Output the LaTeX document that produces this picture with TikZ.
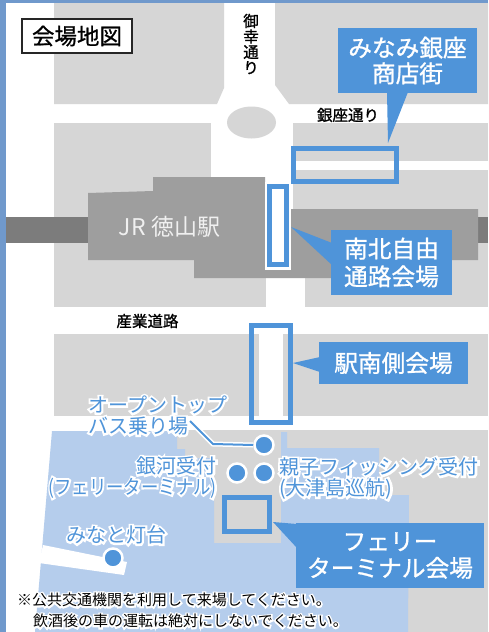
\documentclass[tikz,border=0pt]{standalone}
\usepackage{fontspec}
\setmainfont{Noto Sans CJK JP}
\definecolor{edgeblue}{HTML}{7099CC}
\definecolor{block}{HTML}{D6D6D6}
\definecolor{station}{HTML}{9E9E9E}
\definecolor{rail}{HTML}{7C7C7C}
\definecolor{sea}{HTML}{B5CDEC}
\definecolor{accent}{HTML}{4F94D9}
\newcommand{\fsz}[1]{\fontsize{#1}{#1}\selectfont}
% #1 stroke width, #2 text
\newcommand{\strk}[2]{\special{pdf:code 2 Tr #1 w}#2\special{pdf:code 0 Tr 1 w}}
\newcommand{\halotxt}[1]{\leavevmode\rlap{\textcolor{white}{\strk{4}{#1}}}#1}
\newcommand{\halonote}[1]{\leavevmode\rlap{\textcolor{white}{\strk{3.2}{#1}}}#1}
\newcommand{\medw}[1]{\textcolor{white}{\strk{0.25}{#1}}}
\newcommand{\medk}[1]{\textcolor{black}{\strk{0.2}{#1}}}
\tikzset{
  x=1pt,y=-1pt,
  roadlabel/.style={inner sep=0pt,text=black,font=\fsz{15.5},align=center},
  callout/.style={inner sep=0pt,text=white,font=\fsz{23.7},align=center},
  placelabel/.style={inner sep=0pt,text=accent,font=\fsz{20}},
  notelabel/.style={inner sep=0pt,text=black,font=\fsz{15},anchor=west},
  venue/.style={draw=accent,line width=5pt},
  dot/.style={circle,fill=accent,draw=white,line width=2.5pt,minimum size=19pt,inner sep=0pt},
  leader/.style={draw=accent,line width=2pt},
  leaderhalo/.style={draw=white,line width=5pt},
}
\begin{document}
\begin{tikzpicture}
\useasboundingbox (0,0) rectangle (488,632);
\fill[white] (0,0) rectangle (488,632);
% blocks
\fill[block] (54,3) -- (224,3) -- (224,88) -- (217,104) -- (54,104) -- cycle;
\fill[block] (275,3) -- (488,3) -- (488,104) -- (289,104) -- (275,85) -- cycle;
\fill[block] (54,123) -- (211,123) -- (211,307) -- (54,307) -- cycle;
\fill[block] (211,270) rectangle (266,307);
\fill[block] (293,123) rectangle (488,161);
\fill[block] (293,170) rectangle (488,307);
\fill[white] (266,278) rectangle (305,307);
\fill[block] (54,334) rectangle (488,416);
\fill[block] (177,430) rectangle (488,632);
% sea
\fill[sea] (52,431) -- (177,431) -- (177,449) -- (185,449) -- (185,458) -- (214,458) -- (214,543)
  -- (281,543) -- (281,432) -- (287,432) -- (287,448) -- (379,448) -- (379,495) -- (409,495) -- (408,632)
  -- (35,632) -- cycle;
% pier
\fill[white] (43,545) -- (127,562) -- (124,575) -- (39,563) -- cycle;
% ring
\fill[block] (251.5,122.5) ellipse [x radius=24.5, y radius=16];
% rail and station
\fill[rail] (6,216.5) rectangle (88,243);
\fill[rail] (478,217) rectangle (488,243);
\fill[station] (88,193) -- (153,191) -- (153,177) -- (265,177) -- (265,209) -- (478,209) -- (478,260)
  -- (340,260) -- (340,278) -- (194,278) -- (194,260) -- (88,260) -- cycle;
% edge bars
\fill[edgeblue] (0,0) rectangle (6,632);
\fill[edgeblue] (0,0) rectangle (488,3);
% north-south passage
\fill[white] (265,182) rectangle (291,270);
\node[venue,minimum width=17pt,minimum height=78pt,inner sep=0pt,fill=white] (nsframe) at (277.5,225.5) {};
% south frame
\fill[white] (259,334) rectangle (283,424);
\node[venue,minimum width=39pt,minimum height=97pt,inner sep=0pt] (sframe) at (271,374) {};
% ginza frame
\fill[white] (293,161) rectangle (488,170);
\node[venue,minimum width=103pt,minimum height=33pt,inner sep=0pt] (gframe) at (345,165) {};
% ferry frame
\node[venue,minimum width=45pt,minimum height=34pt,inner sep=0pt] (fframe) at (247,514.5) {};
% callouts
\node[fill=accent,minimum width=139pt,minimum height=65pt,callout] (ca) at (407.5,60.5) {\medw{みなみ銀座}\\[2pt]\medw{商店街}};
\coordinate (catip) at (388,143);
\fill[accent] (387,92) -- (catip) -- (408,92) -- cycle;
\node[fill=accent,minimum width=121pt,minimum height=65pt,callout] (cb) at (391.5,262.5) {\medw{南北自由}\\[4pt]\medw{通路会場}};
\coordinate (cbtip) at (291,227);
\fill[accent] (332,243) -- (cbtip) -- (332,265) -- cycle;
\node[fill=accent,minimum width=149pt,minimum height=42pt,callout] (cc) at (393.5,363) {\medw{駅南側会場}};
\coordinate (cctip) at (293,363);
\fill[accent] (320,357) -- (cctip) -- (320,372) -- cycle;
\node[fill=accent,minimum width=188pt,minimum height=65pt,callout] (cd) at (390,555.5) {\medw{フェリー}\\[3pt]\medw{ターミナル会場}};
\coordinate (cdtip) at (273,522);
\fill[accent] (297,524) -- (cdtip) -- (297,548) -- cycle;
% title
\node[draw=black!85,line width=1.5pt,fill=white,minimum width=110pt,minimum height=34pt,inner sep=0pt,font=\fsz{22.5}] (title) at (77,36) {\medk{会場地図}};
% road labels
\node[roadlabel] (miyuki) at (251,44) {\fsz{15.5}\medk{御}\\[0pt]\medk{幸}\\[0pt]\medk{通}\\[0pt]\medk{り}};
\node[roadlabel] (ginza) at (348,115) {\medk{銀座通り}};
\node[roadlabel] (sangyo) at (147.5,321) {\medk{産業道路}};
\node[inner sep=0pt,text=white!94!black,font=\fsz{23}] (jr) at (169.5,227) {JR 徳山駅};
% leader and dots
\coordinate (ldstart) at (190,421);
\coordinate (ldbend) at (213,444);
\node[dot] (bus) at (264,445) {};
\node[dot] (ginga) at (237,473) {};
\node[dot] (oyako) at (264,473) {};
\node[dot] (minato) at (113,558) {};
\draw[leaderhalo] (ldstart) -- (ldbend) -- (bus.west);
\draw[leader] (ldstart) -- (ldbend) -- (bus.west);
% place labels
\node[placelabel,anchor=west] (open1) at (88,405) {\halotxt{オープントップ}};
\node[placelabel,anchor=west] (open2) at (88,426) {\halotxt{バス乗り場}};
\node[placelabel,anchor=east] (gin1) at (217,466) {\halotxt{銀河受付}};
\node[placelabel,anchor=east] (gin2) at (217,488) {\scalebox{0.87}[1]{\halotxt{(フェリーターミナル)}}};
\node[placelabel,anchor=west] (oya1) at (279,467) {\halotxt{親子フィッシング受付}};
\node[placelabel,anchor=west] (oya2) at (279,489) {\halotxt{(大津島巡航)}};
\node[placelabel,anchor=west] (mina) at (66,535) {\halotxt{みなと灯台}};
% notes
\node[notelabel] (note1) at (17,600) {\halonote{※公共交通機関を利用して来場してください。}};
\node[notelabel] (note2) at (33,621) {\halonote{飲酒後の車の運転は絶対にしないでください。}};
\end{tikzpicture}
\end{document}
